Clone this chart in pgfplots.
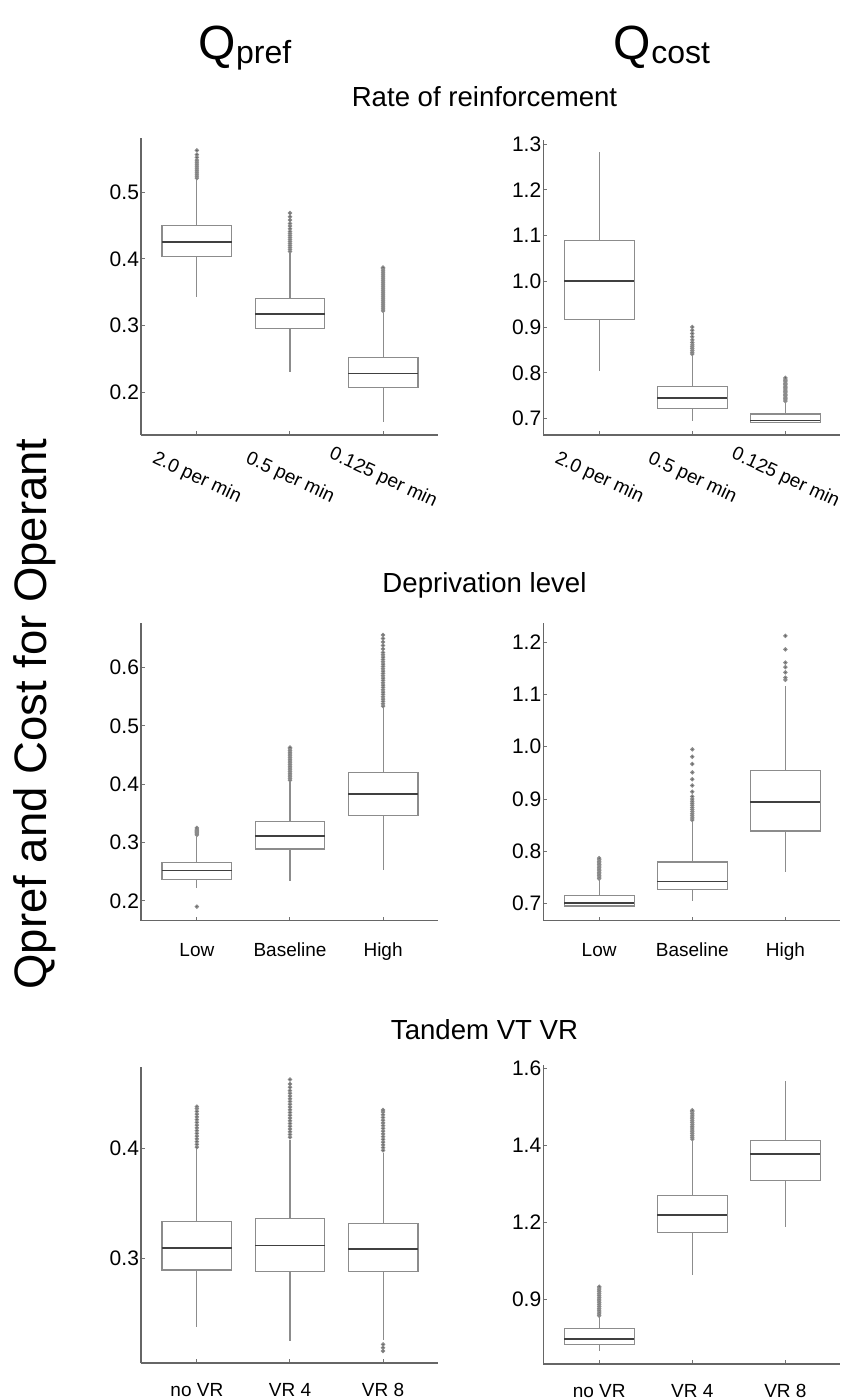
\documentclass[border=0pt]{standalone}
\usepackage{fontspec}
\setmainfont{Liberation Sans}
\usepackage{pgfplots}
\pgfplotsset{compat=1.18}
\usepgfplotslibrary{statistics}

\pgfplotsset{
  panel/.style={
    scale only axis, width=148.5pt,
    axis x line*=bottom, axis y line*=left,
    axis line style={-, draw=black!60, line width=0.8pt},
    xmin=0.4, xmax=3.59, xtick={1,2,3},
    tick align=inside, major tick length=2pt,
    tick style={draw=black!55, line width=0.5pt},
    xticklabel style={font=\fontsize{9.5}{11}\selectfont},
    yticklabel style={font=\fontsize{10.5}{12}\selectfont},
    yticklabel shift=-2.5pt,
    /pgf/number format/assume math mode=true,
    yticklabel style={/pgf/number format/.cd, fixed, fixed zerofill, precision=1},
    clip=false,
  },
  bx/.style={
    boxplot/draw direction=y, boxplot/box extend=0.75, boxplot/whisker extend=0,
    draw=black!45, line width=0.55pt,
    mark=*, mark size=0.8pt, mark options={draw=none, fill=black!70},
    boxplot/every median/.style={draw=black!75, line width=0.85pt},
  },
}
% draw position, lower whisker, lower quartile, median, upper quartile, upper whisker
\newcommand{\bxp}[6]{\addplot[bx, boxplot prepared={draw position=#1,
  lower whisker=#2, lower quartile=#3, median=#4, upper quartile=#5, upper whisker=#6}]}

\begin{document}
\begin{tikzpicture}
\path[use as bounding box] (0,0) rectangle (424.5pt,699.5pt);

% ---- row 1: rate of reinforcement
\begin{axis}[panel, at={(70.5pt,482pt)}, anchor=south west, height=148.5pt,
  ymin=0.136, ymax=0.581, ytick={0.2,0.3,0.4,0.5},
  xticklabels={2.0 per min, 0.5 per min, 0.125 per min},
  xticklabel style={rotate=-25, anchor=center}, xticklabel shift=21.5pt]
\bxp{1}{0.3435}{0.403}{0.425}{0.45}{0.5195} table[row sep=\\,y index=0]{data\\
0.521\\0.524\\0.527\\0.530\\0.533\\0.536\\0.539\\0.542\\0.545\\0.548\\0.552\\0.556\\0.5625\\};
\bxp{2}{0.23}{0.295}{0.317}{0.34}{0.4085} table[row sep=\\,y index=0]{data\\
0.411\\0.414\\0.417\\0.420\\0.423\\0.426\\0.429\\0.432\\0.435\\0.438\\0.441\\0.445\\0.449\\0.453\\0.458\\0.463\\0.4685\\};
\bxp{3}{0.156}{0.207}{0.228}{0.252}{0.3195} table[row sep=\\,y index=0]{data\\
0.322\\0.325\\0.328\\0.331\\0.334\\0.337\\0.340\\0.343\\0.346\\0.349\\0.352\\0.355\\0.358\\0.361\\0.364\\0.367\\0.370\\0.373\\0.376\\0.379\\0.382\\0.385\\0.387\\};
\end{axis}

\begin{axis}[panel, at={(271.65pt,482pt)}, anchor=south west, height=147.5pt,
  ymin=0.664, ymax=1.309, ytick={0.7,0.8,0.9,1.0,1.1,1.2,1.3},
  xticklabels={2.0 per min, 0.5 per min, 0.125 per min},
  xticklabel style={rotate=-25, anchor=center}, xticklabel shift=21.5pt]
\bxp{1}{0.8036}{0.917}{1.0}{1.09}{1.283} coordinates {};
\bxp{2}{0.6942}{0.7212}{0.7453}{0.7693}{0.8372} table[row sep=\\,y index=0]{data\\
0.841\\0.845\\0.849\\0.853\\0.857\\0.861\\0.866\\0.872\\0.879\\0.886\\0.893\\0.900\\};
\bxp{3}{0.692}{0.692}{0.6956}{0.710}{0.735} table[row sep=\\,y index=0]{data\\
0.738\\0.741\\0.744\\0.747\\0.750\\0.753\\0.756\\0.759\\0.762\\0.765\\0.768\\0.771\\0.774\\0.777\\0.780\\0.783\\0.786\\0.789\\};
\end{axis}

% ---- row 2: deprivation level
\begin{axis}[panel, at={(70.5pt,239.15pt)}, anchor=south west, height=148.7pt,
  ymin=0.166, ymax=0.676, ytick={0.2,0.3,0.4,0.5,0.6},
  xticklabels={Low, Baseline, High},
  xticklabel style={anchor=base}, xticklabel shift=18pt]
\bxp{1}{0.222}{0.236}{0.252}{0.2663}{0.310} table[row sep=\\,y index=0]{data\\
0.190\\0.313\\0.315\\0.317\\0.319\\0.321\\0.323\\0.325\\};
\bxp{2}{0.234}{0.289}{0.3114}{0.336}{0.4046} table[row sep=\\,y index=0]{data\\
0.407\\0.410\\0.413\\0.416\\0.419\\0.422\\0.425\\0.428\\0.431\\0.434\\0.437\\0.440\\0.443\\0.446\\0.449\\0.452\\0.455\\0.458\\0.461\\0.463\\};
\bxp{3}{0.253}{0.3457}{0.3829}{0.4206}{0.531} table[row sep=\\,y index=0]{data\\
0.534\\0.538\\0.542\\0.546\\0.550\\0.554\\0.558\\0.562\\0.566\\0.570\\0.574\\0.578\\0.582\\0.586\\0.590\\0.594\\0.598\\0.602\\0.606\\0.610\\0.614\\0.618\\0.622\\0.626\\0.632\\0.638\\0.644\\0.650\\0.656\\};
\end{axis}

\begin{axis}[panel, at={(271.65pt,239.15pt)}, anchor=south west, height=148.7pt,
  ymin=0.6675, ymax=1.236, ytick={0.7,0.8,0.9,1.0,1.1,1.2},
  xticklabels={Low, Baseline, High},
  xticklabel style={anchor=base}, xticklabel shift=18pt]
\bxp{1}{0.695}{0.6955}{0.7013}{0.7153}{0.745} table[row sep=\\,y index=0]{data\\
0.748\\0.751\\0.754\\0.757\\0.760\\0.763\\0.766\\0.769\\0.772\\0.775\\0.778\\0.781\\0.784\\0.787\\};
\bxp{2}{0.7057}{0.7274}{0.7427}{0.7797}{0.857} table[row sep=\\,y index=0]{data\\
0.860\\0.864\\0.868\\0.872\\0.876\\0.880\\0.884\\0.888\\0.892\\0.896\\0.900\\0.905\\0.914\\0.926\\0.938\\0.951\\0.967\\0.981\\0.995\\};
\bxp{3}{0.7606}{0.839}{0.8939}{0.9545}{1.1152} table[row sep=\\,y index=0]{data\\
1.128\\1.132\\1.142\\1.152\\1.161\\1.186\\1.212\\};
\end{axis}

% ---- row 3: tandem VT VR
\begin{axis}[panel, at={(70.5pt,17.85pt)}, anchor=south west, height=148.3pt,
  ymin=0.2043, ymax=0.4748, ytick={0.3,0.4},
  xticklabels={no VR, VR 4, VR 8},
  xticklabel style={anchor=base}, xticklabel shift=16.7pt]
\bxp{1}{0.2377}{0.2894}{0.3097}{0.3334}{0.3994} table[row sep=\\,y index=0]{data\\
0.4015\\0.404\\0.4065\\0.409\\0.4115\\0.414\\0.4165\\0.419\\0.4215\\0.424\\0.4265\\0.429\\0.4315\\0.434\\0.4365\\0.4383\\};
\bxp{2}{0.2249}{0.2881}{0.3116}{0.3362}{0.408} table[row sep=\\,y index=0]{data\\
0.4105\\0.413\\0.4155\\0.418\\0.4205\\0.423\\0.4255\\0.428\\0.4305\\0.433\\0.4355\\0.438\\0.4405\\0.443\\0.4455\\0.448\\0.4505\\0.453\\0.456\\0.459\\0.4632\\};
\bxp{3}{0.2255}{0.2881}{0.3085}{0.3316}{0.3964} table[row sep=\\,y index=0]{data\\
0.2155\\0.2185\\0.2215\\0.3985\\0.401\\0.4035\\0.406\\0.4085\\0.411\\0.4135\\0.416\\0.4185\\0.421\\0.4235\\0.426\\0.4285\\0.431\\0.4335\\0.4353\\};
\end{axis}

\begin{axis}[panel, at={(271.65pt,17.5pt)}, anchor=south west, height=149.5pt,
  ymin=0.689, ymax=1.661, ytick={0.9,1.15,1.4,1.65}, yticklabels={0.9,1.2,1.4,1.6},
  xticklabels={no VR, VR 4, VR 8},
  xticklabel style={anchor=base}, xticklabel shift=16.7pt]
\bxp{1}{0.7323}{0.7528}{0.7712}{0.8048}{0.8426} table[row sep=\\,y index=0]{data\\
0.846\\0.852\\0.858\\0.864\\0.870\\0.876\\0.882\\0.888\\0.894\\0.900\\0.906\\0.912\\0.918\\0.924\\0.930\\0.936\\0.940\\};
\bxp{2}{0.9768}{1.1154}{1.1727}{1.2355}{1.416} table[row sep=\\,y index=0]{data\\
1.420\\1.426\\1.432\\1.438\\1.444\\1.450\\1.456\\1.462\\1.468\\1.474\\1.480\\1.486\\1.492\\1.498\\1.504\\1.510\\1.5136\\};
\bxp{3}{1.1349}{1.2842}{1.3708}{1.4162}{1.6089} coordinates {};
\end{axis}

% ---- titles
\node[anchor=base, font=\fontsize{24}{28}\selectfont] at (122.5pt,669.5pt)
  {Q{\fontsize{16}{18}\selectfont\raisebox{-2pt}{pref}}};
\node[anchor=base, font=\fontsize{24}{28}\selectfont] at (331pt,669.5pt)
  {Q{\fontsize{16}{18}\selectfont\raisebox{-2pt}{cost}}};
\node[anchor=base, font=\fontsize{13.8}{16}\selectfont] at (242.25pt,646pt) {Rate of reinforcement};
\node[anchor=base, font=\fontsize{13.8}{16}\selectfont] at (242.25pt,403pt) {Deprivation level};
\node[anchor=base, font=\fontsize{13.8}{16}\selectfont] at (242.25pt,179.5pt) {Tandem VT VR};
\node[rotate=90, font=\fontsize{22.75}{26}\selectfont] at (17.5pt,342.5pt) {Qpref and Cost for Operant};
\end{tikzpicture}
\end{document}
